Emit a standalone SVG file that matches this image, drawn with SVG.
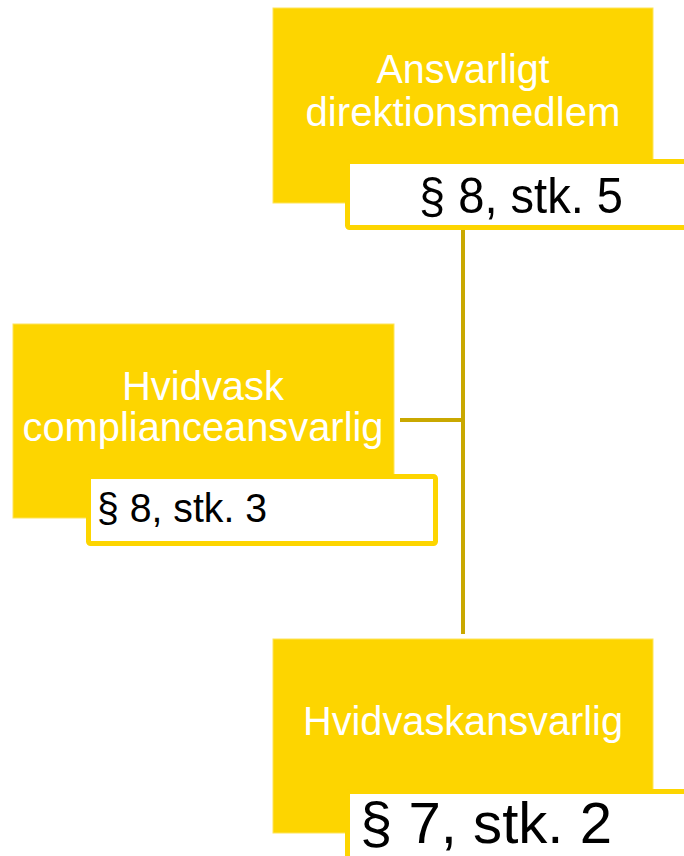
<svg xmlns="http://www.w3.org/2000/svg" width="684" height="856" viewBox="0 0 684 856">
<style>
.box{fill:#FDD500;stroke:#FDE45A;stroke-width:1}
.lbl{fill:#FFFFFF;stroke:#FDD500;stroke-width:5}
.t{font-family:"Liberation Sans",Arial,sans-serif;fill:#FFFFFF;font-size:40px;text-anchor:middle}
.p{font-family:"Liberation Sans",Arial,sans-serif;fill:#000000}
.c{stroke:#C9A800;stroke-width:4;fill:none}
</style>
<rect width="684" height="856" fill="#FFFFFF"/>
<g id="connectors">
<line class="c" x1="463" y1="230" x2="463" y2="634"/>
<line class="c" x1="400" y1="420" x2="463" y2="420"/>
</g>
<g id="node-direktion">
<rect class="box" x="273" y="8" width="380" height="195"/>
<text class="t" x="463" y="83" textLength="173" lengthAdjust="spacingAndGlyphs">Ansvarligt</text>
<text class="t" x="463" y="126" textLength="315" lengthAdjust="spacingAndGlyphs">direktionsmedlem</text>
<rect class="lbl" x="347.5" y="161.5" width="345" height="66" rx="2"/>
<text class="p" x="419" y="213" font-size="50" textLength="204" lengthAdjust="spacingAndGlyphs">§ 8, stk. 5</text>
</g>
<g id="node-compliance">
<rect class="box" x="13" y="324" width="381" height="194"/>
<text class="t" x="203" y="400" textLength="162" lengthAdjust="spacingAndGlyphs">Hvidvask</text>
<text class="t" x="203" y="441" textLength="361" lengthAdjust="spacingAndGlyphs">complianceansvarlig</text>
<rect class="lbl" x="88.5" y="476.5" width="347" height="67" rx="2"/>
<text class="p" x="97" y="522" font-size="41" textLength="170" lengthAdjust="spacingAndGlyphs">§ 8, stk. 3</text>
</g>
<g id="node-hvidvask">
<rect class="box" x="273" y="639" width="380" height="194"/>
<text class="t" x="463" y="735" textLength="320" lengthAdjust="spacingAndGlyphs">Hvidvaskansvarlig</text>
<rect class="lbl" x="347.5" y="791.5" width="345" height="80" rx="2"/>
<text class="p" x="360" y="843" font-size="57" textLength="252" lengthAdjust="spacingAndGlyphs">§ 7, stk. 2</text>
</g>
</svg>
